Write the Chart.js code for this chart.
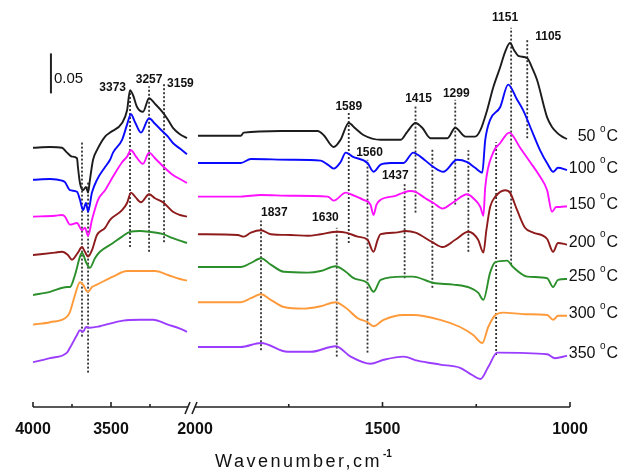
<!DOCTYPE html>
<html><head><meta charset="utf-8">
<script src="https://cdn.jsdelivr.net/npm/chart.js@4.4.1/dist/chart.umd.min.js"></script>
<style>html,body{margin:0;padding:0;background:#fff}canvas{display:block}</style>
</head><body>
<canvas id="c" width="621" height="474"></canvas>
<script>
// ---------- DATA ----------
const temperatures = ['50', '100', '150', '200', '250', '300', '350'];
// spectra as [wavenumber (cm-1), absorbance x1000 incl. display offset]
const t50 = [
[4000,324],[3891,325],[3814,324],[3782,318],[3750,313],[3718,311],[3712,300],[3699,280],[3679,271],[3660,275],[3647,268],[3635,284],[3615,309],[3590,321],[3538,338],[3506,343],[3429,355],[3397,371],[3378,396],[3359,390],[3333,375],[3295,369],[3256,386],[3218,379],[3167,368],[3135,359],[3103,349],[3058,341],[3013,336],
[1992,339],[1878,339],[1870,343],[1771,345],[1673,345],[1657,340],[1630,325],[1612,334],[1590,355],[1572,348],[1551,340],[1505,334],[1452,334],[1434,344],[1412,355],[1394,349],[1372,336],[1327,336],[1306,349],[1279,338],[1253,338],[1239,346],[1221,371],[1205,399],[1186,425],[1173,444],[1160,455],[1149,446],[1138,439],[1114,436],[1101,424],[1088,409],[1061,362],[1048,350],[1035,343],[1021,338],[1008,335]
];
const t100 = [
[4000,284],[3891,285],[3814,283],[3795,281],[3763,271],[3718,269],[3699,259],[3679,246],[3660,255],[3647,244],[3622,268],[3590,284],[3538,300],[3506,309],[3487,318],[3429,334],[3397,353],[3372,366],[3346,356],[3308,343],[3256,361],[3218,354],[3167,344],[3135,338],[3103,330],[3058,323],[3013,316],
[1992,305],[1878,305],[1851,310],[1745,309],[1665,308],[1646,303],[1630,298],[1612,306],[1598,318],[1580,313],[1540,305],[1524,294],[1505,303],[1479,305],[1444,305],[1418,318],[1399,313],[1364,300],[1338,294],[1301,309],[1274,306],[1253,299],[1234,293],[1226,334],[1213,359],[1186,375],[1165,403],[1141,384],[1125,371],[1106,350],[1080,321],[1059,303],[1045,294],[1032,299],[1008,296]
];
const t150 = [
[4000,238],[3859,239],[3814,240],[3795,238],[3763,228],[3718,230],[3686,221],[3667,224],[3647,214],[3622,234],[3583,259],[3538,271],[3487,288],[3429,306],[3397,313],[3372,321],[3340,313],[3295,304],[3256,318],[3218,311],[3167,301],[3103,290],[3058,285],[3013,280],
[1992,263],[1878,263],[1824,265],[1745,264],[1646,263],[1630,258],[1598,268],[1580,265],[1551,259],[1532,253],[1524,240],[1516,253],[1505,259],[1465,264],[1444,268],[1426,270],[1412,269],[1386,261],[1364,255],[1340,248],[1311,256],[1274,266],[1258,261],[1239,250],[1231,239],[1226,275],[1205,318],[1186,330],[1162,343],[1133,324],[1106,306],[1080,288],[1061,271],[1048,244],[1037,250],[1027,250],[1008,251]
];
const t200 = [
[4000,190],[3859,193],[3814,194],[3776,190],[3750,184],[3712,193],[3686,200],[3667,194],[3647,188],[3622,196],[3590,215],[3538,224],[3506,234],[3429,246],[3397,255],[3372,268],[3346,263],[3308,256],[3256,266],[3218,261],[3167,256],[3103,244],[3058,240],[3013,238],
[1992,216],[1886,215],[1870,213],[1851,218],[1824,221],[1798,216],[1745,215],[1699,214],[1665,216],[1620,219],[1598,218],[1566,213],[1540,209],[1524,194],[1513,209],[1505,216],[1465,218],[1439,220],[1412,218],[1367,206],[1340,200],[1306,209],[1271,219],[1245,209],[1231,193],[1223,221],[1213,250],[1199,263],[1173,271],[1160,268],[1141,246],[1120,224],[1098,218],[1061,210],[1045,194],[1032,205],[1008,203]
];
const t250 = [
[4000,140],[3891,144],[3782,150],[3763,150],[3731,165],[3699,188],[3686,193],[3660,181],[3635,174],[3603,186],[3571,194],[3487,205],[3429,213],[3378,219],[3314,220],[3256,219],[3167,216],[3103,211],[3058,208],[3013,205],
[1992,175],[1878,175],[1851,180],[1824,186],[1798,178],[1763,169],[1699,168],[1665,170],[1625,176],[1598,169],[1577,161],[1540,155],[1524,144],[1505,159],[1444,163],[1420,163],[1364,155],[1311,153],[1266,149],[1245,143],[1231,134],[1213,168],[1199,181],[1168,183],[1152,175],[1114,163],[1061,161],[1045,150],[1032,159],[1008,160]
];
const t300 = [
[4000,103],[3891,106],[3782,113],[3763,119],[3731,140],[3699,156],[3679,153],[3660,146],[3647,144],[3622,150],[3590,153],[3487,163],[3397,170],[3314,170],[3218,170],[3135,165],[3058,160],[3013,158],
[1992,131],[1878,131],[1851,136],[1824,141],[1798,134],[1763,125],[1710,123],[1665,126],[1625,131],[1598,124],[1566,111],[1540,106],[1524,101],[1497,109],[1444,115],[1418,115],[1346,109],[1293,100],[1258,90],[1234,80],[1218,100],[1199,115],[1178,118],[1120,116],[1061,115],[1045,109],[1032,114],[1008,114]
];
const t350 = [
[4000,56],[3891,61],[3782,68],[3763,74],[3718,90],[3699,96],[3679,94],[3660,100],[3635,99],[3571,101],[3423,108],[3314,109],[3231,109],[3135,103],[3058,98],[3013,94],
[1992,75],[1878,75],[1824,80],[1753,69],[1691,69],[1625,76],[1585,63],[1532,54],[1497,59],[1444,63],[1407,58],[1346,53],[1293,49],[1261,40],[1239,35],[1218,50],[1194,68],[1061,66],[1040,61],[1008,64]
];
// marked bands: position, top/bottom of the dotted marker (absorbance x1000), label
const peakPos    = [3686, 3647, 3378, 3256, 3160, 1824, 1622, 1590, 1540, 1441, 1412, 1367, 1306, 1271, 1197, 1157, 1114];
const peakTop    = [331, 281, 395, 401, 406, 233, 224, 369, 309, 281, 378, 324, 384, 321, 331, 474, 461];
const peakBottom = [88, 43, 200, 194, 206, 71, 63, 205, 68, 161, 243, 149, 253, 194, 65, 178, 336];
const peakText   = ['', '', '3373', '3257', '3159', '1837', '1630', '1589', '1560', '1437', '1415', '', '1299', '', '', '1151', '1105'];
// scale bar: 0.05 absorbance
const scaleBarWn = 3885, scaleBarBase = 392, scaleBarSize = 50, scaleBarText = '0.05';
// axis ticks
const tickWns = [4000, 3750, 3500, 3250, 2000, 1750, 1500, 1250, 1000];
const tickLabels = ['4000', '', '3500', '', '2000', '', '1500', '', '1000'];

// ---------- STYLE ----------
const seriesColors = ['#1c1c1c', '#0a0aff', '#ff10ff', '#8e1b1b', '#2b8f2b', '#ff9a3a', '#9b3dff'];
const peakLabelStyle = [null, null, ['right',-4,-3], ['center',0,-7], ['left',3,1], ['left',0,-8], ['right',2,-10], ['center',0,-5], ['center',2,-7], ['right',4,-7], ['center',3,-6], null, ['center',1,-6], null, null, ['center',-6,-10], ['left',8,-2]];

// broken axis: 4000-3000 compressed, 2000-1000 full
const GAP = 16, LEFT_FACTOR = 0.416;
function u(w) { return w <= 2000 ? w : 2000 + GAP + (w - 3000) * LEFT_FACTOR; }

function toPoints(arr) {
  const out = [];
  let prevLeft = null;
  for (const [w, v] of arr) {
    const left = w >= 3000;
    if (prevLeft === true && !left) out.push({x: u(2000) + GAP / 2, y: null});
    out.push({x: u(w), y: v});
    prevLeft = left;
  }
  return out;
}

const spectra = [t50, t100, t150, t200, t250, t300, t350];
const datasets = [];
spectra.forEach((s, i) => datasets.push({
  label: temperatures[i] + ' °C', data: toPoints(s), borderColor: seriesColors[i],
  borderWidth: 1.9, pointRadius: 0, cubicInterpolationMode: 'monotone', spanGaps: false, fill: false
}));
peakPos.forEach((p, i) => datasets.push({
  label: 'band' + i, data: [{x: u(p), y: peakBottom[i]}, {x: u(p), y: peakTop[i]}],
  borderColor: '#333', borderWidth: 1.8, borderDash: [2, 2], pointRadius: 0, fill: false
}));
datasets.push({
  label: 'scale', data: [{x: u(scaleBarWn), y: scaleBarBase}, {x: u(scaleBarWn), y: scaleBarBase + scaleBarSize}],
  borderColor: '#222', borderWidth: 2, pointRadius: 0, fill: false
});

const FONT = '"Liberation Sans", Arial, sans-serif';
const decor = {
  id: 'decor',
  afterDraw(chart) {
    const ctx = chart.ctx, xs = chart.scales.x, ys = chart.scales.y, ca = chart.chartArea;
    const px = w => xs.getPixelForValue(u(w));
    const yA = ca.bottom;
    ctx.save();
    ctx.strokeStyle = '#222'; ctx.lineWidth = 1.6;
    // axis line with break
    ctx.beginPath();
    ctx.moveTo(px(4000), yA); ctx.lineTo(px(3000) - 1, yA);
    ctx.moveTo(px(2000), yA); ctx.lineTo(px(1000), yA);
    ctx.stroke();
    const bx = px(3000);
    ctx.beginPath();
    ctx.moveTo(bx - 4, yA + 7); ctx.lineTo(bx + 1, yA - 5);
    ctx.moveTo(bx + 3, yA + 7); ctx.lineTo(bx + 8, yA - 5);
    ctx.stroke();
    // tick marks (inward)
    tickWns.forEach((w, i) => {
      if (w === 2000) return;
      const len = tickLabels[i] ? 5 : 3;
      ctx.beginPath(); ctx.moveTo(px(w), yA); ctx.lineTo(px(w), yA - len); ctx.stroke();
    });
    // peak labels
    ctx.fillStyle = '#111'; ctx.font = 'bold 12px ' + FONT; ctx.textBaseline = 'middle';
    peakText.forEach((t, i) => {
      if (!t) return;
      const [al, dx, dy] = peakLabelStyle[i];
      ctx.textAlign = al;
      ctx.fillText(t, px(peakPos[i]) + dx, ys.getPixelForValue(peakTop[i]) + dy);
    });
    // scale bar text
    ctx.font = '15px ' + FONT; ctx.textAlign = 'left';
    const sbTop = ys.getPixelForValue(scaleBarBase + scaleBarSize), sbBot = ys.getPixelForValue(scaleBarBase);
    ctx.fillText(scaleBarText, px(scaleBarWn) + 3, (sbTop + sbBot) / 2 + 5);
    // series labels
    spectra.forEach((s, i) => {
      const yy = ys.getPixelForValue(s[s.length - 1][1]) - 2;
      const xr = ca.right + 48;
      ctx.textAlign = 'right'; ctx.font = '16px ' + FONT; ctx.fillStyle = '#111';
      ctx.fillText('C', xr, yy);
      const wc = ctx.measureText('C').width;
      ctx.font = '10px ' + FONT;
      ctx.fillText('o', xr - wc - 1, yy - 8);
      const wo = ctx.measureText('o').width;
      ctx.font = '16px ' + FONT;
      ctx.fillText(temperatures[i] + ' ', xr - wc - wo - 1, yy);
    });
    // axis title
    const cx = (ca.left + ca.right) / 2 - 3;
    ctx.font = '18px ' + FONT; ctx.textAlign = 'center'; ctx.fillStyle = '#111';
    try { ctx.letterSpacing = '2.5px'; } catch (e) {}
    const title = 'Wavenumber,cm';
    ctx.fillText(title, cx, yA + 55);
    const tw = ctx.measureText(title).width;
    try { ctx.letterSpacing = '0px'; } catch (e) {}
    ctx.font = 'bold 10px ' + FONT; ctx.textAlign = 'left';
    ctx.fillText('-1', cx + tw / 2 + 1, yA + 47);
    ctx.restore();
  }
};

new Chart(document.getElementById('c'), {
  type: 'line',
  data: {datasets},
  options: {
    responsive: false, animation: false, devicePixelRatio: 1,
    layout: {padding: {left: 33, right: 51, top: 7, bottom: 0}},
    plugins: {legend: {display: false}, tooltip: {enabled: false}},
    scales: {
      x: {
        type: 'linear', reverse: true, min: u(1000), max: u(4000),
        grid: {display: false, drawTicks: false}, border: {display: false},
        ticks: {autoSkip: false, maxRotation: 0, padding: 13, color: '#111',
          font: {family: FONT, size: 16, weight: 'bold'},
          callback: (v, i) => tickLabels[i]},
        afterBuildTicks: s => { s.ticks = tickWns.map(w => ({value: u(w)})); },
        afterFit: s => { s.height = 67; }
      },
      y: {display: false, min: 0, max: 500}
    }
  },
  plugins: [decor]
});
</script>
</body></html>
